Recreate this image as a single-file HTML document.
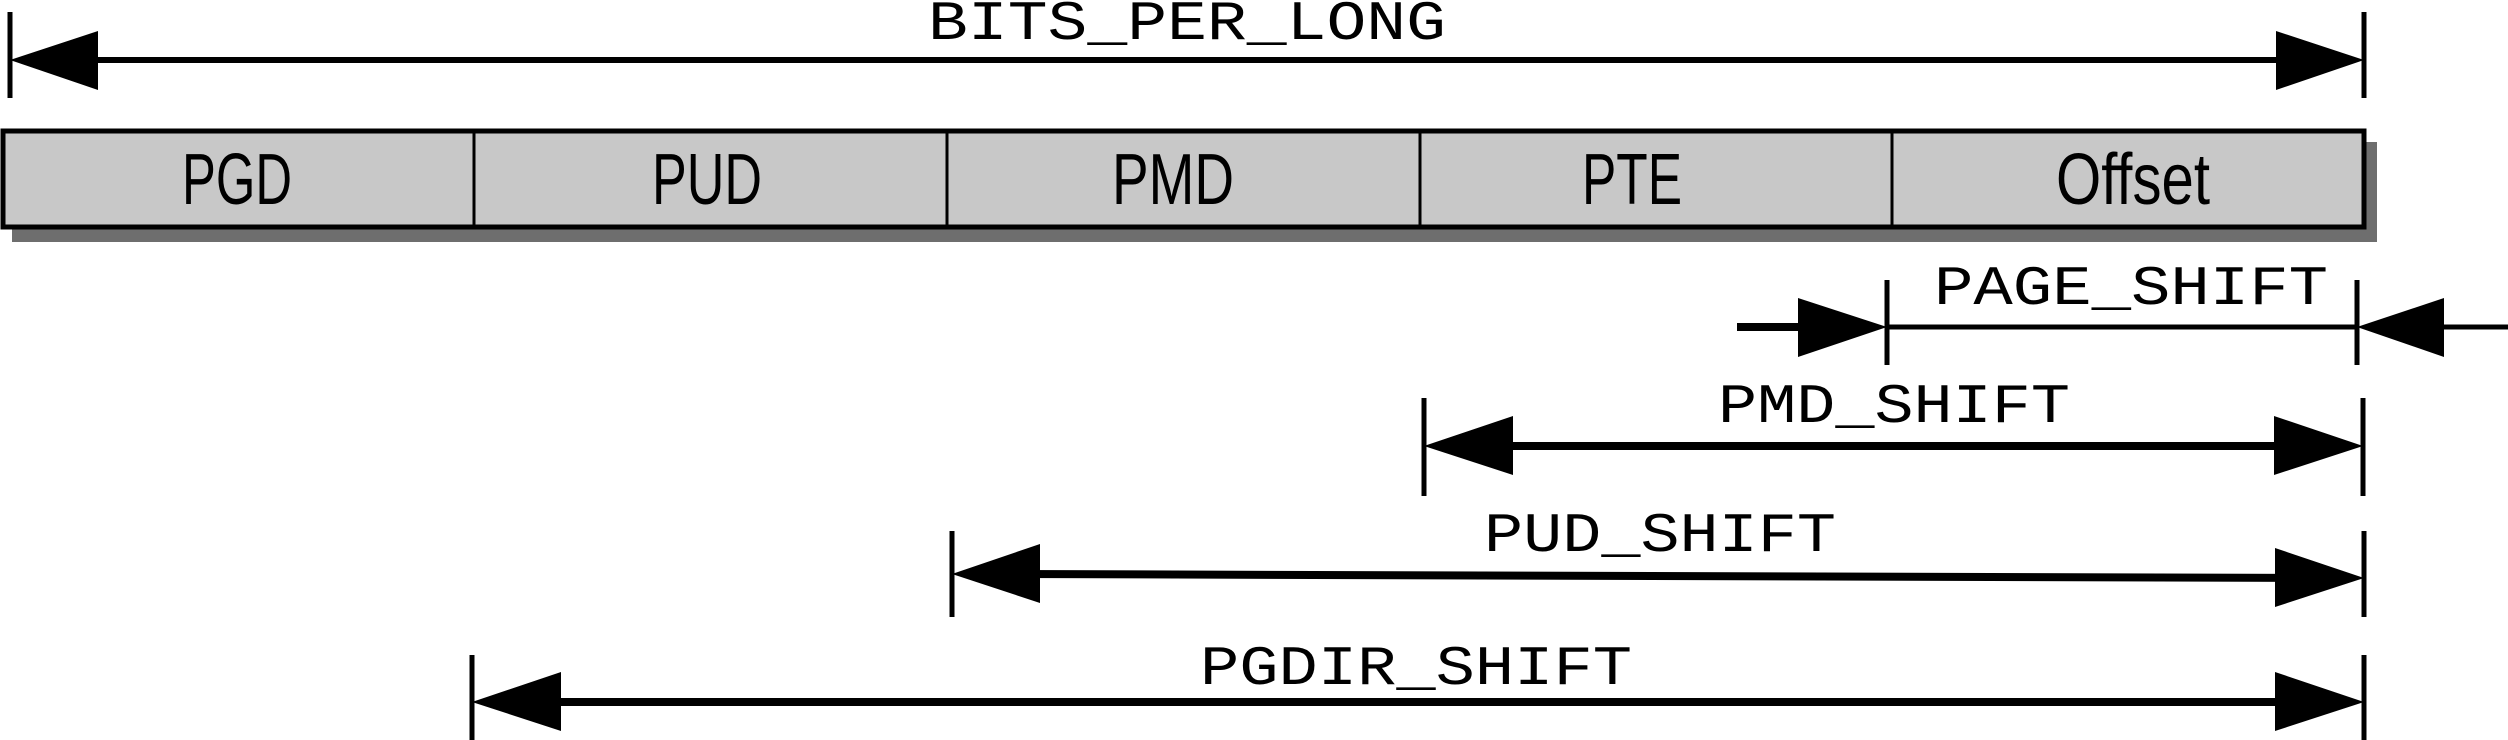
<!DOCTYPE html>
<html><head><meta charset="utf-8"><style>
html,body{margin:0;padding:0;background:#fff;}
svg{display:block;}
.m{font-family:"Liberation Mono",monospace;font-size:56px;fill:#000;}
.s{font-family:"Liberation Sans",sans-serif;font-size:72px;fill:#000;}
</style></head><body>
<svg width="2508" height="740" viewBox="0 0 2508 740" xmlns="http://www.w3.org/2000/svg">
<!-- BITS_PER_LONG -->
<text class="m" x="928" y="39" textLength="518" lengthAdjust="spacingAndGlyphs">BITS_PER_LONG</text>
<line x1="10" y1="12" x2="10" y2="98" stroke="#000" stroke-width="5"/>
<line x1="2364" y1="12" x2="2364" y2="98" stroke="#000" stroke-width="5"/>
<line x1="60" y1="60" x2="2320" y2="60" stroke="#000" stroke-width="6"/>
<polygon points="10,60 98,31 98,90" fill="#000"/>
<polygon points="2364,60 2276,31 2276,90" fill="#000"/>

<!-- box -->
<rect x="12" y="142" width="2365" height="100" fill="#6e6e6e"/>
<rect x="3" y="131" width="2361" height="96" fill="#c8c8c8" stroke="#000" stroke-width="5"/>
<line x1="474" y1="131" x2="474" y2="227" stroke="#000" stroke-width="3"/>
<line x1="947" y1="131" x2="947" y2="227" stroke="#000" stroke-width="3"/>
<line x1="1420" y1="131" x2="1420" y2="227" stroke="#000" stroke-width="3"/>
<line x1="1892" y1="131" x2="1892" y2="227" stroke="#000" stroke-width="3"/>
<text class="s" x="182" y="204" textLength="110" lengthAdjust="spacingAndGlyphs">PGD</text>
<text class="s" x="652" y="204" textLength="110" lengthAdjust="spacingAndGlyphs">PUD</text>
<text class="s" x="1112" y="204" textLength="122" lengthAdjust="spacingAndGlyphs">PMD</text>
<text class="s" x="1582" y="204" textLength="100" lengthAdjust="spacingAndGlyphs">PTE</text>
<text class="s" x="2056" y="204" textLength="154" lengthAdjust="spacingAndGlyphs">Offset</text>

<!-- PAGE_SHIFT -->
<text class="m" x="1934" y="304" textLength="394" lengthAdjust="spacingAndGlyphs">PAGE_SHIFT</text>
<line x1="1887" y1="280" x2="1887" y2="365" stroke="#000" stroke-width="5"/>
<line x1="2357" y1="280" x2="2357" y2="365" stroke="#000" stroke-width="5"/>
<line x1="1737" y1="327" x2="1830" y2="327" stroke="#000" stroke-width="8"/>
<line x1="1887" y1="327" x2="2357" y2="327" stroke="#000" stroke-width="5"/>
<line x1="2420" y1="327" x2="2508" y2="327" stroke="#000" stroke-width="5"/>
<polygon points="1887,327 1798,298 1798,357" fill="#000"/>
<polygon points="2357,327 2444,298 2444,357" fill="#000"/>

<!-- PMD_SHIFT -->
<text class="m" x="1718" y="422" textLength="352" lengthAdjust="spacingAndGlyphs">PMD_SHIFT</text>
<line x1="1424" y1="398" x2="1424" y2="496" stroke="#000" stroke-width="5"/>
<line x1="2363" y1="398" x2="2363" y2="496" stroke="#000" stroke-width="5"/>
<line x1="1470" y1="446" x2="2320" y2="446" stroke="#000" stroke-width="8"/>
<polygon points="1424,446 1513,416 1513,475" fill="#000"/>
<polygon points="2363,446 2274,416 2274,475" fill="#000"/>

<!-- PUD_SHIFT -->
<text class="m" x="1484" y="551" textLength="352" lengthAdjust="spacingAndGlyphs">PUD_SHIFT</text>
<line x1="952" y1="531" x2="952" y2="617" stroke="#000" stroke-width="5"/>
<line x1="2364" y1="531" x2="2364" y2="617" stroke="#000" stroke-width="5"/>
<line x1="1000" y1="574" x2="2320" y2="578" stroke="#000" stroke-width="8"/>
<polygon points="952,574 1040,544 1040,603" fill="#000"/>
<polygon points="2364,578 2275,548 2275,607" fill="#000"/>

<!-- PGDIR_SHIFT -->
<text class="m" x="1200" y="684" textLength="432" lengthAdjust="spacingAndGlyphs">PGDIR_SHIFT</text>
<line x1="472" y1="655" x2="472" y2="740" stroke="#000" stroke-width="5"/>
<line x1="2364" y1="655" x2="2364" y2="740" stroke="#000" stroke-width="5"/>
<line x1="520" y1="702" x2="2320" y2="702" stroke="#000" stroke-width="8"/>
<polygon points="472,702 561,672 561,731" fill="#000"/>
<polygon points="2364,702 2275,672 2275,731" fill="#000"/>
</svg>
</body></html>
